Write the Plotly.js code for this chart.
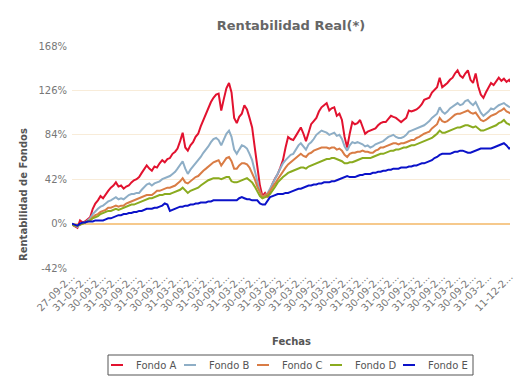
<!DOCTYPE html>
<html>
<head>
<meta charset="utf-8">
<script src="https://cdn.plot.ly/plotly-3.0.1.min.js"></script>
<style>html,body{margin:0;padding:0;background:#fff;}#chart{width:524px;height:389px;}</style>
</head>
<body>
<div id="chart"></div>
<script>
const fechas = [
'2002-09-27','2002-10-31','2002-11-30','2002-12-31',
'2003-01-31','2003-02-28','2003-03-31','2003-04-30','2003-05-31','2003-06-30','2003-07-31','2003-08-31','2003-09-30','2003-10-31','2003-11-30','2003-12-31',
'2004-01-31','2004-02-29','2004-03-31','2004-04-30','2004-05-31','2004-06-30','2004-07-31','2004-08-31','2004-09-30','2004-10-31','2004-11-30','2004-12-31',
'2005-01-31','2005-02-28','2005-03-31','2005-04-30','2005-05-31','2005-06-30','2005-07-31','2005-08-31','2005-09-30','2005-10-31','2005-11-30','2005-12-31',
'2006-01-31','2006-02-28','2006-03-31','2006-04-30','2006-05-31','2006-06-30','2006-07-31','2006-08-31','2006-09-30','2006-10-31','2006-11-30','2006-12-31',
'2007-01-31','2007-02-28','2007-03-31','2007-04-30','2007-05-31','2007-06-30','2007-07-31','2007-08-31','2007-09-30','2007-10-31','2007-11-30','2007-12-31',
'2008-01-31','2008-02-29','2008-03-31','2008-04-30','2008-05-31','2008-06-30','2008-07-31','2008-08-31','2008-09-30','2008-10-31','2008-11-30','2008-12-31',
'2009-01-31','2009-02-28','2009-03-31','2009-04-30','2009-05-31','2009-06-30','2009-07-31','2009-08-31','2009-09-30','2009-10-31','2009-11-30','2009-12-31',
'2010-01-31','2010-02-28','2010-03-31','2010-04-30','2010-05-31','2010-06-30','2010-07-31','2010-08-31','2010-09-30','2010-10-31','2010-11-30','2010-12-31',
'2011-01-31','2011-02-28','2011-03-31','2011-04-30','2011-05-31','2011-06-30','2011-07-31','2011-08-31','2011-09-30','2011-10-31','2011-11-30','2011-12-31',
'2012-01-31','2012-02-29','2012-03-31','2012-04-30','2012-05-31','2012-06-30','2012-07-31','2012-08-31','2012-09-30','2012-10-31','2012-11-30','2012-12-31',
'2013-01-31','2013-02-28','2013-03-31','2013-04-30','2013-05-31','2013-06-30','2013-07-31','2013-08-31','2013-09-30','2013-10-31','2013-11-30','2013-12-31',
'2014-01-31','2014-02-28','2014-03-31','2014-04-30','2014-05-31','2014-06-30','2014-07-31','2014-08-31','2014-09-30','2014-10-31','2014-11-30','2014-12-31',
'2015-01-31','2015-02-28','2015-03-31','2015-04-30','2015-05-31','2015-06-30','2015-07-31','2015-08-31','2015-09-30','2015-10-31','2015-11-30','2015-12-31',
'2016-01-31','2016-02-29','2016-03-31','2016-04-30','2016-05-31','2016-06-30','2016-07-31','2016-08-31','2016-09-30','2016-10-31','2016-11-30','2016-12-11'
];

const fondoA = [
-1,-3,-4,3,1,2,4,6,14,19,
22,26,24,28,31,34,36,39,35,36,
33,35,36,39,41,42,44,48,52,55,
52,50,54,53,57,60,58,61,62,66,
68,71,78,86,72,69,74,77,82,85,
92,98,104,108,115,119,122,123,107,118,
128,133,124,100,95,101,104,112,108,100,
91,72,55,36,26,29,25,32,38,43,
47,53,60,72,82,80,79,83,88,91,
85,78,86,94,97,100,106,110,112,114,
107,109,110,102,104,98,82,72,85,96,
94,95,98,92,85,87,88,89,90,93,
95,96,96,99,102,101,100,98,96,98,
100,107,106,107,108,110,113,117,118,119,
124,127,129,138,129,131,133,136,138,142,
145,140,138,142,145,136,133,142,130,122,
119,124,129,133,131,134,138,135,137,134,
136,134];

const fondoB = [
-1,-2,-3,-1,0,1,3,5,9,12,
14,16,17,19,21,22,24,25,23,24,
23,25,27,28,28,29,29,32,35,37,
38,36,38,39,40,42,43,44,45,47,
49,52,55,59,52,47,51,54,57,60,
63,67,70,73,77,80,81,79,74,79,
85,88,82,70,66,70,74,73,71,66,
60,50,39,30,25,27,29,33,38,43,
47,52,57,60,63,65,66,70,74,76,
73,70,75,77,80,84,86,88,87,86,
84,85,86,83,84,80,73,69,74,77,
76,77,76,75,73,74,72,73,75,76,
77,78,80,82,83,84,82,81,81,82,
84,87,88,89,90,91,92,93,95,97,
100,102,104,110,106,104,106,109,111,112,
114,112,113,116,117,114,112,115,110,105,
102,104,106,109,108,110,112,113,114,112,
111,110];

const fondoC = [
-1,-2,-2,-1,0,1,2,3,6,8,
9,11,12,13,15,15,16,17,16,17,
17,19,20,21,22,23,24,25,26,27,
27,27,29,31,31,32,33,34,34,35,
36,38,40,43,39,38,40,42,44,45,
48,50,52,54,56,58,59,60,55,58,
62,63,59,52,52,55,57,57,56,53,
48,42,35,29,25,27,28,31,34,38,
42,46,50,53,56,58,60,62,64,66,
64,63,66,67,69,70,71,72,72,72,
71,72,72,70,71,69,65,63,66,67,
67,68,68,69,68,68,67,67,69,70,
72,72,73,74,75,76,76,75,76,76,
77,78,79,79,81,82,84,85,86,87,
90,92,94,100,97,96,97,99,101,103,
104,104,105,106,107,105,104,105,102,98,
97,98,100,102,103,104,106,107,109,106,
105,104];

const fondoD = [
-1,-2,-2,-1,0,1,2,3,5,6,
7,9,10,11,12,12,13,14,13,14,
15,16,17,18,18,19,20,21,22,23,
24,24,25,26,27,27,28,28,28,29,
30,31,32,34,31,29,31,32,33,34,
36,38,40,41,42,43,43,43,42,43,
44,44,40,39,39,40,41,42,43,41,
39,35,30,26,24,25,26,28,31,35,
39,42,44,46,48,49,50,51,52,53,
53,52,54,55,56,57,58,59,60,61,
61,62,62,61,60,59,57,57,58,58,
59,60,61,62,62,62,62,63,64,65,
66,66,67,68,69,69,70,70,71,72,
72,73,74,74,75,76,77,78,79,80,
81,83,85,88,86,86,87,88,89,90,
91,91,92,93,93,92,91,92,90,88,
88,89,90,91,92,93,95,96,98,95,
94,93];

const fondoE = [
0,-1,-2,0,1,1,2,2,2,3,
3,3,3,4,5,5,6,7,8,8,
9,9,10,10,11,11,12,12,13,14,
14,14,15,15,16,17,19,18,12,13,
14,15,16,16,17,17,18,18,19,19,
20,20,20,21,21,22,22,22,22,22,
22,22,22,22,22,24,25,24,23,23,
22,22,22,19,18,18,22,25,26,27,
28,28,28,29,29,30,31,32,33,33,
34,35,36,36,37,37,38,38,39,39,
39,40,40,41,42,43,44,45,44,44,
44,45,46,46,47,47,47,48,48,49,
49,50,50,51,51,52,52,52,53,53,
53,54,54,55,55,56,57,57,58,59,
60,62,63,65,66,66,66,66,67,68,
68,69,69,68,67,67,68,69,70,71,
71,71,71,71,72,73,74,75,76,74,
71,72];

const seriesNames = ['Fondo A','Fondo B','Fondo C','Fondo D','Fondo E'];
const seriesValues = [fondoA, fondoB, fondoC, fondoD, fondoE];
const seriesColors = ['#e2122f','#8eaec6','#d97c45','#8aab1f','#0b12c9'];

const xTickVals = ['2002-09-27','2003-03-31','2003-09-30','2004-03-31','2004-09-30','2005-03-31','2005-09-30','2006-03-31','2006-09-30','2007-03-31','2007-09-30','2008-03-31','2008-09-30','2009-03-31','2009-09-30','2010-03-31','2010-09-30','2011-03-31','2011-09-30','2012-03-31','2012-09-30','2013-03-31','2013-09-30','2014-03-31','2014-09-30','2015-03-31','2015-09-30','2016-03-31','2016-12-11'];
const xTickText = xTickVals.map(d => d.slice(8,10) + '-' + d.slice(5,7) + '-2...');
const yTickVals = [-42, 0, 42, 84, 126, 168];
const yTickText = ['-42%','0%','42%','84%','126%','168%'];
const xTitle = 'Fechas';
const yTitle = 'Rentabilidad de Fondos';

const traces = seriesNames.map((n, i) => ({
  type: 'scatter', mode: 'lines', name: n, showlegend: false,
  x: fechas, y: seriesValues[i],
  line: {color: seriesColors[i], width: 2}
}));

// Plot area in pixels: x 72..510, y 46..268
const PL = 72, PW = 438, PT = 46, PH = 222;
const px = v => (v - PL) / PW;
const py = v => (PT + PH - v) / PH;

// Custom legend (box, short line keys, labels)
const legSymX = [111, 184, 257, 330, 403];
const legTextX = [134, 207, 280, 353, 426];
const legY = 365;
const shapes = [{type: 'rect', xref: 'paper', yref: 'paper', x0: px(108), x1: px(473), y0: py(355), y1: py(375),
  line: {color: '#555', width: 1}, fillcolor: 'rgba(0,0,0,0)'}];
const annotations = [];
seriesNames.forEach((n, i) => {
  shapes.push({type: 'line', xref: 'paper', yref: 'paper', x0: px(legSymX[i]), x1: px(legSymX[i] + 12), y0: py(legY), y1: py(legY),
    line: {color: seriesColors[i], width: 2}});
  annotations.push({xref: 'paper', yref: 'paper', x: px(legTextX[i]), y: py(legY), xanchor: 'left', yanchor: 'middle',
    text: n, showarrow: false, font: {size: 10, color: '#555'}});
});
annotations.push({xref: 'paper', yref: 'paper', x: 0.5, y: py(341), xanchor: 'center', yanchor: 'middle',
  text: '<b>' + xTitle + '</b>', showarrow: false, font: {size: 10, color: '#555'}});
annotations.push({xref: 'paper', yref: 'paper', x: px(23), y: py(195), xanchor: 'center', yanchor: 'middle', textangle: -90,
  text: '<b>' + yTitle + '</b>', showarrow: false, font: {size: 10, color: '#555'}});

const FONT = 'DejaVu Sans, Verdana, sans-serif';
const layout = {
  width: 524, height: 389,
  margin: {l: 72, r: 14, t: 46, b: 121},
  paper_bgcolor: '#fff', plot_bgcolor: '#fff',
  font: {family: FONT, size: 10, color: '#666'},
  title: {text: '<b>Rentabilidad Real(*)</b>', font: {family: FONT, size: 13, color: '#666'}, x: 0.5, xref: 'paper', xanchor: 'center', y: 0.935, yanchor: 'middle'},
  showlegend: false,
  shapes: shapes,
  annotations: annotations,
  xaxis: {type: 'date', range: ['2002-09-27','2016-12-11'], tickvals: xTickVals, ticktext: xTickText,
    tickangle: -45, tickfont: {size: 10, color: '#777'}, showgrid: false, zeroline: false, showline: false, ticks: ''},
  yaxis: {range: [-42, 168], tickvals: yTickVals, ticktext: yTickText, tickfont: {size: 10, color: '#777'},
    showgrid: true, gridcolor: '#f8ecd9', gridwidth: 1, zeroline: true, zerolinecolor: '#f6c98c', zerolinewidth: 2,
    showline: false, ticks: '', ticklabelstandoff: 4}
};

Plotly.newPlot('chart', traces, layout, {displayModeBar: false, staticPlot: true});
</script>
</body>
</html>
